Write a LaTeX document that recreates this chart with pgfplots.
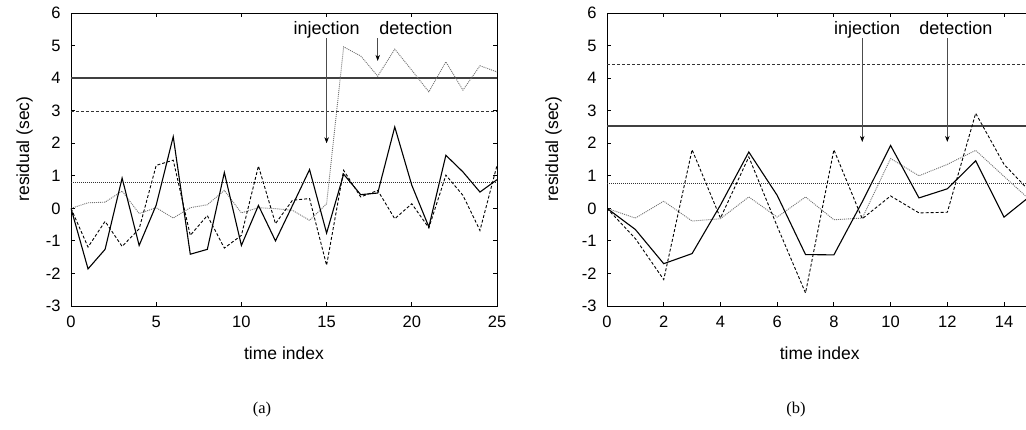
\documentclass[border=0pt]{standalone}
\usepackage{fontspec}
\setmainfont{Liberation Sans}
\newfontfamily\capfont{Liberation Serif}
\usepackage{pgfplots}
\usepackage{pgfplotstable}
\pgfplotsset{compat=1.18}
\usetikzlibrary{arrows.meta}

\pgfplotstableread{
t solid dashed dotted
0 0 0 0
1 -1.86 -1.19 0.17
2 -1.26 -0.40 0.19
3 0.93 -1.17 0.53
4 -1.14 -0.63 -0.16
5 0.10 1.32 0.02
6 2.20 1.48 -0.30
7 -1.41 -0.83 0.02
8 -1.26 -0.22 0.11
9 1.10 -1.22 0.55
10 -1.14 -0.83 -0.14
11 0.09 1.30 0.02
12 -1.00 -0.47 -0.01
13 0.09 0.25 -0.06
14 1.19 0.30 -0.37
15 -0.76 -1.75 0.14
16 1.05 1.17 4.96
17 0.42 0.35 4.68
18 0.47 0.55 4.06
19 2.50 -0.32 4.89
20 0.71 0.14 4.24
21 -0.57 -0.60 3.58
22 1.63 1.02 4.50
23 1.12 0.40 3.63
24 0.50 -0.68 4.38
25 0.88 1.32 4.19
}\dataA

\pgfplotstableread{
t solid dashed dotted
0 0 0 0
1 -0.65 -0.93 -0.30
2 -1.70 -2.19 0.22
3 -1.39 1.80 -0.39
4 0.10 -0.30 -0.32
5 1.73 1.58 0.35
6 0.40 -0.55 -0.27
7 -1.42 -2.60 0.35
8 -1.43 1.80 -0.35
9 0.20 -0.32 -0.30
10 1.93 0.38 1.53
11 0.32 -0.14 1.00
12 0.60 -0.12 1.35
13 1.46 2.92 1.78
14 -0.27 1.35 0.98
15 0.43 0.44 0.19
}\dataB

\tikzset{
  ann/.style={font=\fontsize{18bp}{20bp}\selectfont, anchor=base},
  arr/.style={black!70, line width=0.6bp, -{Stealth[length=6bp,width=4.5bp,black]}},
  sol/.style={black, line width=1.1bp},
  das/.style={black, line width=0.9bp, dash pattern=on 3bp off 2bp},
  dot/.style={black!55, line width=0.9bp, dash pattern=on 1bp off 1bp},
  thsol/.style={black!75, line width=1.3bp},
  thdas/.style={black!80, line width=0.9bp, dash pattern=on 3bp off 2bp},
  thdot/.style={black!80, line width=0.9bp, dash pattern=on 1bp off 1bp},
}

\pgfplotsset{
  resid/.style={
    scale only axis, height=293bp,
    anchor=south west,
    ymin=-3, ymax=6, ytick={-3,-2,...,6},
    tick align=inside, major tick length=4bp,
    axis line style={line width=0.9bp},
    every tick/.style={black, line width=0.8bp},
    /pgf/number format/assume math mode=true,
    tick label style={font=\fontsize{16.5bp}{18bp}\selectfont},
    yticklabel style={xshift=-7bp},
    xticklabel style={yshift=-6.5bp},
    xlabel={time index},
    ylabel={residual (sec)},
    label style={font=\fontsize{17.5bp}{19bp}\selectfont},
    xlabel style={anchor=base},
    ylabel style={anchor=center},
  },
}

\begin{document}
\begin{tikzpicture}
\useasboundingbox (-71bp,-124bp) rectangle (955bp,306bp);
\clip (-71bp,-124bp) rectangle (955bp,306bp);

\begin{axis}[resid, at={(0bp,0bp)}, width=426bp,
  xmin=0, xmax=25, xtick={0,5,...,25},
  xlabel style={at={(axis description cs:0.5,-0.1826)}},
  ylabel style={at={(axis description cs:-0.1087,0.536)}},
]
\addplot[thsol] coordinates {(0,4) (25,4)};
\addplot[thdas] coordinates {(0,2.98) (25,2.98)};
\addplot[thdot] coordinates {(0,0.81) (25,0.81)};
\addplot[dot] table[x=t,y=dotted] {\dataA};
\addplot[das] table[x=t,y=dashed] {\dataA};
\addplot[sol] table[x=t,y=solid] {\dataA};
\node[ann] at (axis cs:15,5.34) {injection};
\node[ann] at (axis cs:20.24,5.34) {detection};
\draw[arr] (axis cs:15,5.22) -- (axis cs:15,2.0);
\draw[arr] (axis cs:18,5.22) -- (axis cs:18,4.53);
\end{axis}

\begin{axis}[resid, at={(536bp,0bp)}, width=425.4bp,
  xmin=0, xmax=15, xtick={0,2,...,14},
  xlabel style={at={(axis description cs:0.5,-0.1826)}},
  ylabel style={at={(axis description cs:-0.1258,0.536)}},
]
\addplot[thdas] coordinates {(0,4.42) (15,4.42)};
\addplot[thsol] coordinates {(0,2.53) (15,2.53)};
\addplot[thdot] coordinates {(0,0.76) (15,0.76)};
\addplot[dot] table[x=t,y=dotted] {\dataB};
\addplot[das] table[x=t,y=dashed] {\dataB};
\addplot[sol] table[x=t,y=solid] {\dataB};
\node[ann] at (axis cs:9.17,5.34) {injection};
\node[ann] at (axis cs:12.3,5.34) {detection};
\draw[arr] (axis cs:9,5.22) -- (axis cs:9,2.04);
\draw[arr] (axis cs:12,5.22) -- (axis cs:12,2.04);
\end{axis}

\node[font=\capfont\fontsize{16.5bp}{18bp}\selectfont] at (191bp,-104bp) {(a)};
\node[font=\capfont\fontsize{16.5bp}{18bp}\selectfont] at (725bp,-104bp) {(b)};
\end{tikzpicture}
\end{document}
